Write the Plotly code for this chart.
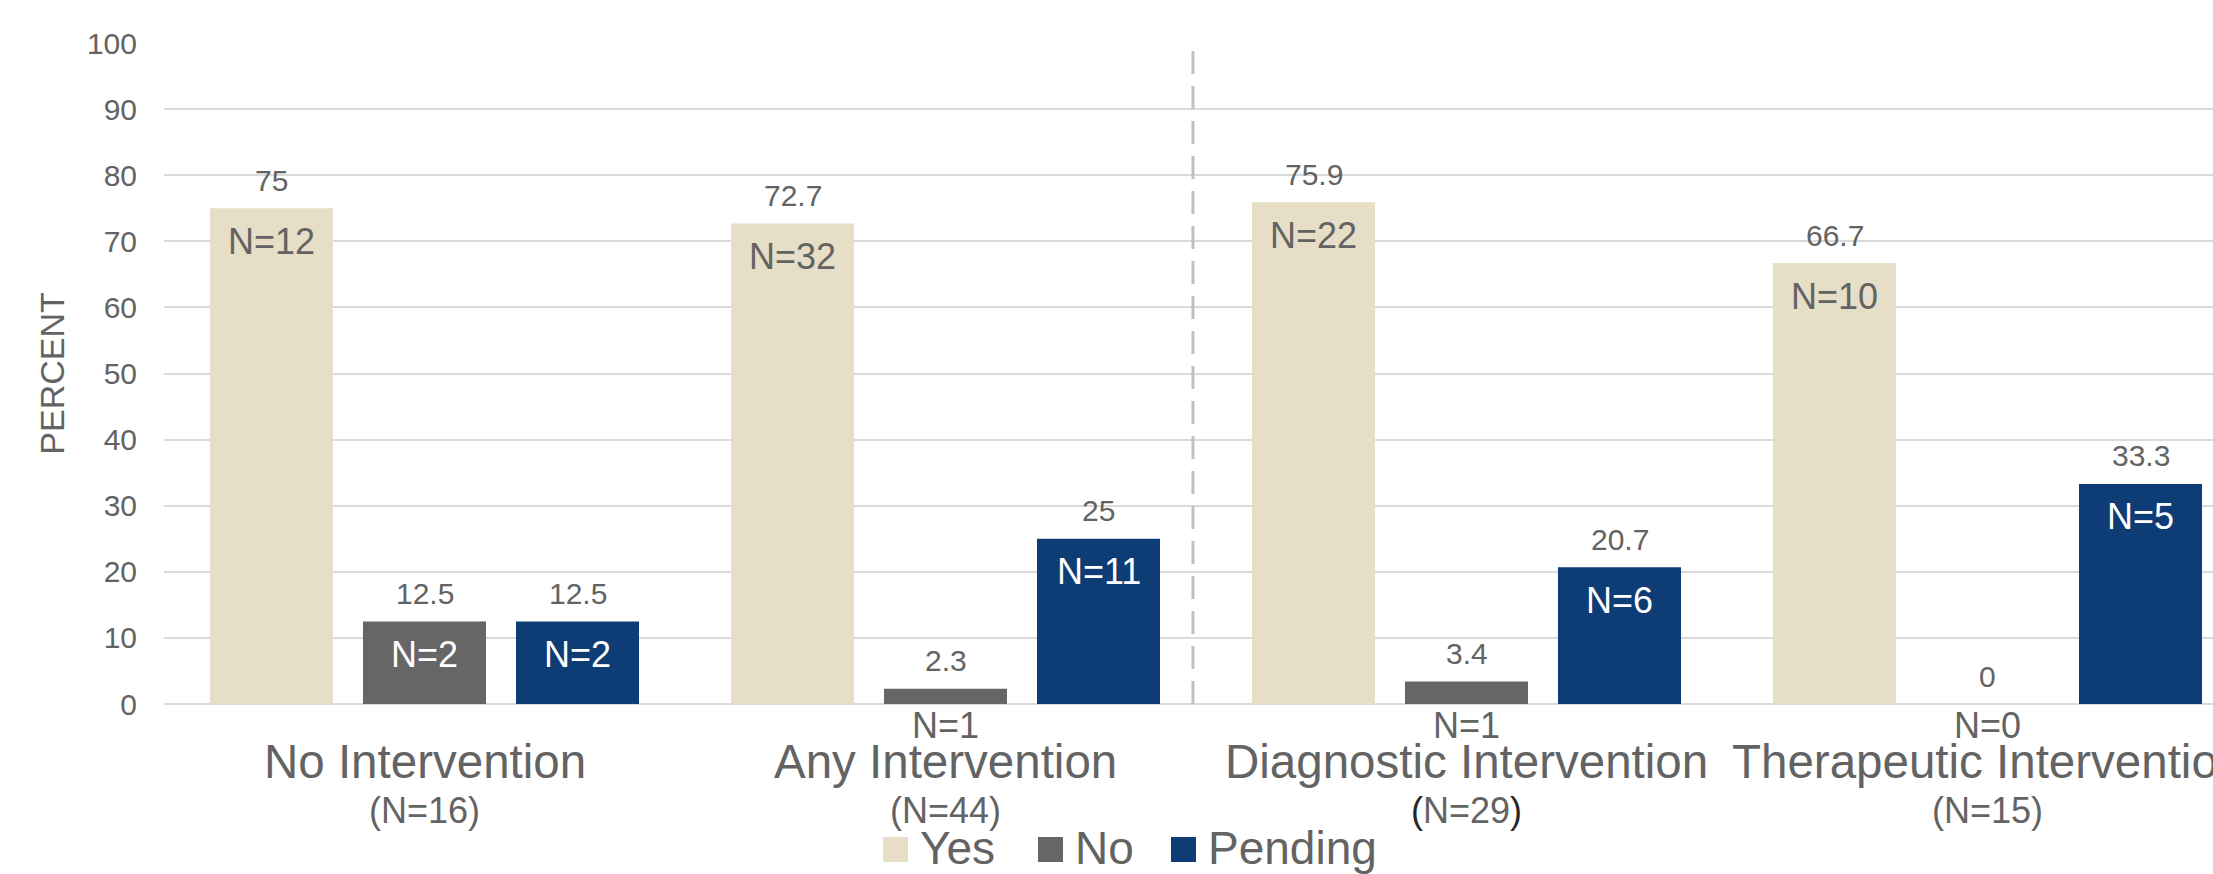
import plotly.graph_objects as go

# ---- data -------------------------------------------------------------
categories = ["No Intervention", "Any Intervention",
              "Diagnostic Intervention", "Therapeutic Intervention"]
group_totals = [16, 44, 29, 15]
series_names = ["Yes", "No", "Pending"]

yes_pct = [75, 72.7, 75.9, 66.7]
no_pct = [12.5, 2.3, 3.4, 0]
pending_pct = [12.5, 25, 20.7, 33.3]

yes_n = [12, 32, 22, 10]
no_n = [2, 1, 1, 0]
pending_n = [2, 11, 6, 5]

y_ticks = list(range(0, 101, 10))

# ---- style ------------------------------------------------------------
FONT = "Liberation Sans, Arial, sans-serif"
TEXT = "#636363"
COLORS = ["#E6DEC6", "#666666", "#0E3C74"]
INSIDE_TEXT = [TEXT, "#FFFFFF", "#FFFFFF"]
GRID = "#DADADA"
BARGAP = 0.119
BARGROUPGAP = 0.196
DARK_PAREN_GROUPS = {2}

W, H = 2213, 874
PLOT_L, PLOT_R, PLOT_T, PLOT_B = 164, W, 43, 704
X_RANGE = [-0.5, -0.5 + (PLOT_R - PLOT_L) / 521.0]


def paper_x(px):
    return (px - PLOT_L) / (PLOT_R - PLOT_L)


def paper_y(py):
    return (PLOT_B - py) / (PLOT_B - PLOT_T)


series_pct = [yes_pct, no_pct, pending_pct]
series_n = [yes_n, no_n, pending_n]

fig = go.Figure()
for name, pct, color in zip(series_names, series_pct, COLORS):
    fig.add_trace(go.Bar(
        name=name, x=categories, y=pct,
        marker=dict(color=color, line=dict(width=0)),
        showlegend=False, hoverinfo="x+y",
    ))

annotations = []
slot = (1 - BARGAP) / len(series_names)
for j, (pct, counts) in enumerate(zip(series_pct, series_n)):
    offset = (j - (len(series_names) - 1) / 2) * slot
    for i, (v, n) in enumerate(zip(pct, counts)):
        xpos = i + offset
        # percentage above the bar
        annotations.append(dict(
            x=xpos, y=v, xref="x", yref="y", yshift=28,
            text=f"{v:g}", showarrow=False, yanchor="middle",
            font=dict(family=FONT, size=30, color=TEXT)))
        # count label: inside tall bars, under the axis for short ones
        if v >= 10:
            annotations.append(dict(
                x=xpos, y=v, xref="x", yref="y", yshift=-33,
                text=f"N={n}", showarrow=False, yanchor="middle",
                font=dict(family=FONT, size=36, color=INSIDE_TEXT[j])))
        else:
            annotations.append(dict(
                x=xpos, y=0, xref="x", yref="y", yshift=-21,
                text=f"N={n}", showarrow=False, yanchor="middle",
                font=dict(family=FONT, size=36, color=TEXT)))

# category names with group sizes
for i, (cat, tot) in enumerate(zip(categories, group_totals)):
    annotations.append(dict(
        x=i, y=0, xref="x", yref="y", yshift=-57,
        text=cat, showarrow=False, yanchor="middle",
        font=dict(family=FONT, size=47.5, color=TEXT)))
    if i in DARK_PAREN_GROUPS:
        label = (f"<span style='color:#262626'>(</span>N={tot}"
                 f"<span style='color:#262626'>)</span>")
    else:
        label = f"(N={tot})"
    annotations.append(dict(
        x=i, y=0, xref="x", yref="y", yshift=-106,
        text=label, showarrow=False, yanchor="middle",
        font=dict(family=FONT, size=36, color=TEXT)))

# legend row
shapes = []
legend_left = [883, 1038, 1171]
SQ = 25
LEG_CY = 849.5
for name, color, left in zip(series_names, COLORS, legend_left):
    shapes.append(dict(
        type="rect", xref="paper", yref="paper",
        x0=paper_x(left), x1=paper_x(left + SQ),
        y0=paper_y(LEG_CY + SQ / 2), y1=paper_y(LEG_CY - SQ / 2),
        fillcolor=color, line=dict(width=0), layer="above"))
    annotations.append(dict(
        x=paper_x(left + SQ + 10), y=paper_y(LEG_CY - 1.5),
        xref="paper", yref="paper", xanchor="left", yanchor="middle",
        text=name, showarrow=False,
        font=dict(family=FONT, size=46, color=TEXT)))

# dashed divider between the overall and the split intervention groups
shapes.append(dict(
    type="line", xref="x", yref="y",
    x0=1.475, x1=1.475, y0=0, y1=99.2,
    line=dict(color="#BFBFBF", width=3, dash="23px,12px"),
    layer="above"))

fig.update_layout(
    width=W, height=H,
    margin=dict(l=PLOT_L, r=W - PLOT_R, t=PLOT_T, b=H - PLOT_B, pad=0),
    paper_bgcolor="white", plot_bgcolor="white",
    barmode="group", bargap=BARGAP, bargroupgap=BARGROUPGAP,
    font=dict(family=FONT, color=TEXT),
    showlegend=False,
    annotations=annotations, shapes=shapes,
    xaxis=dict(
        type="category", range=X_RANGE, showticklabels=False,
        showgrid=False, zeroline=False, showline=False, ticks=""),
    yaxis=dict(
        range=[0, 100], tickvals=y_ticks, ticks="",
        ticklabelstandoff=26,
        tickfont=dict(family=FONT, size=30, color=TEXT),
        showgrid=True, gridcolor=GRID, gridwidth=1.5,
        zeroline=True, zerolinecolor=GRID, zerolinewidth=1.5,
        showline=False,
        title=dict(text="PERCENT", standoff=12,
                   font=dict(family=FONT, size=34, color=TEXT)),
    ),
)

fig.write_html("out.html")
